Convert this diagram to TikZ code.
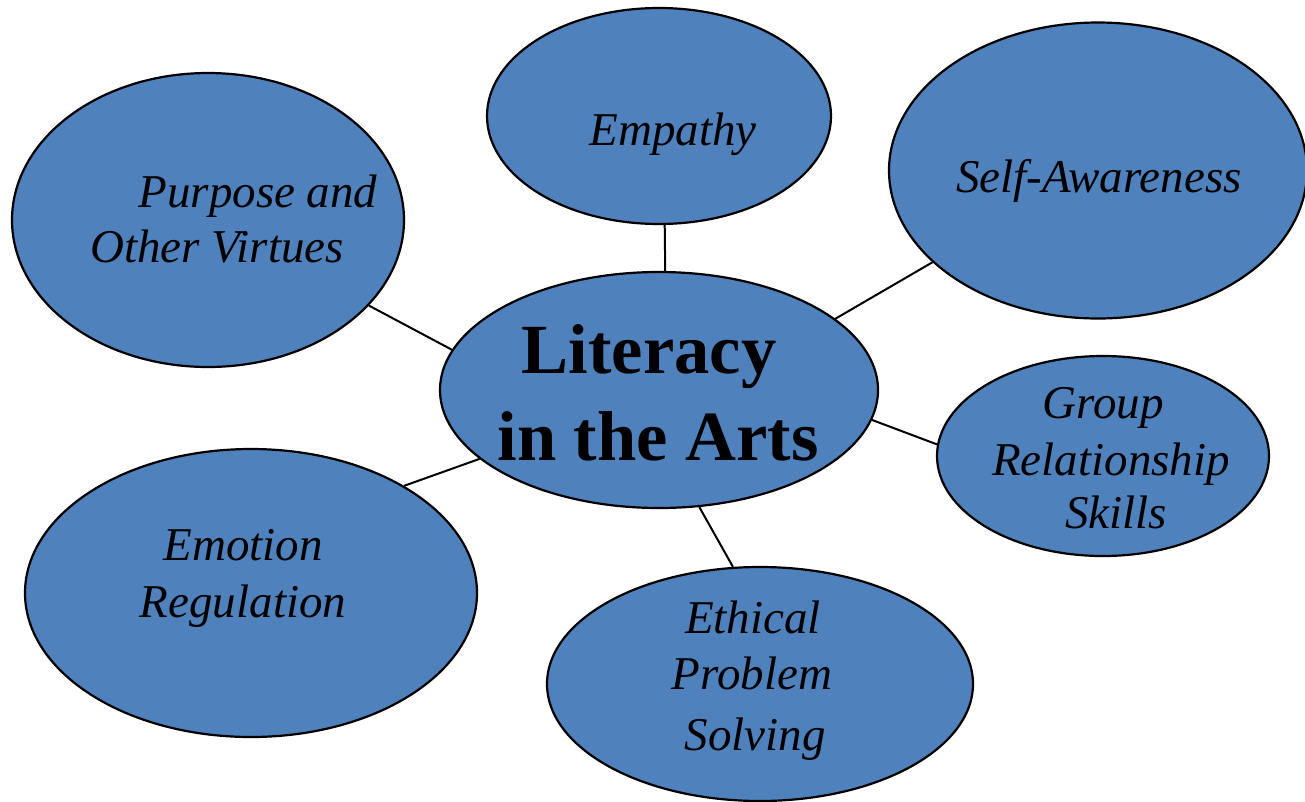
\documentclass[tikz,border=0pt]{standalone}
\usepackage{fontspec}
\setmainfont{Liberation Serif}
\usetikzlibrary{shapes.geometric}
\definecolor{bubblefill}{HTML}{4F81BD}
\begin{document}
\begin{tikzpicture}[x=1pt,y=-1pt,
  bubble/.style={ellipse, draw=black, line width=2.2pt, fill=bubblefill, inner sep=0pt},
  link/.style={draw=black, line width=2pt},
  lbl/.style={anchor=base, inner sep=0pt, font=\fontsize{47}{56}\selectfont\itshape},
  hub/.style={anchor=base, inner sep=0pt, font=\fontsize{70.5}{84}\selectfont\bfseries}]
\useasboundingbox (0,0) rectangle (1305,801);
\fill[white] (0,0) rectangle (1305,801);

% bubbles
\node[bubble, minimum width=438pt, minimum height=236pt] (hubnode) at (659,390) {};
\node[bubble, minimum width=344pt, minimum height=216pt] (emp) at (659,116) {};
\node[bubble, minimum width=418pt, minimum height=296pt] (self) at (1098,170.5) {};
\node[bubble, minimum width=392pt, minimum height=294pt] (purp) at (208,220) {};
\node[bubble, minimum width=332pt, minimum height=200pt] (grp) at (1103,456) {};
\node[bubble, minimum width=452pt, minimum height=288pt] (emo) at (251,593) {};
\node[bubble, minimum width=426pt, minimum height=234pt] (eth) at (760,684) {};

% spokes
\draw[link] (hubnode.87) -- (emp.-87);
\draw[link] (hubnode.22.5) -- (self.209.3);
\draw[link] (hubnode.169.7) -- (purp.-28.5);
\draw[link] (hubnode.-8.8) -- (grp.176.2);
\draw[link] (hubnode.201.2) -- (emo.35.4);
\draw[link] (hubnode.-71) -- (eth.103.6);

% labels
\node[hub] (t1) at (649,373) {Literacy};
\node[hub] (t2) at (658,460) {in the Arts};
\node[lbl] (t3) at (673,145) {Empathy};
\node[lbl] (t4) at (1099,192) {Self-Awareness};
\node[lbl] (t5) at (258,207) {Purpose and};
\node[lbl] (t6) at (217,262) {Other Virtues};
\node[lbl] (t7) at (1103,418) {Group};
\node[lbl] (t8) at (1111,475) {Relationship};
\node[lbl] (t9) at (1116,528) {Skills};
\node[lbl] (t10) at (243,560) {Emotion};
\node[lbl] (t11) at (243,617) {Regulation};
\node[lbl] (t12) at (753,633) {Ethical};
\node[lbl] (t13) at (752,689) {Problem};
\node[lbl] (t14) at (755,750) {Solving};
\end{tikzpicture}
\end{document}
